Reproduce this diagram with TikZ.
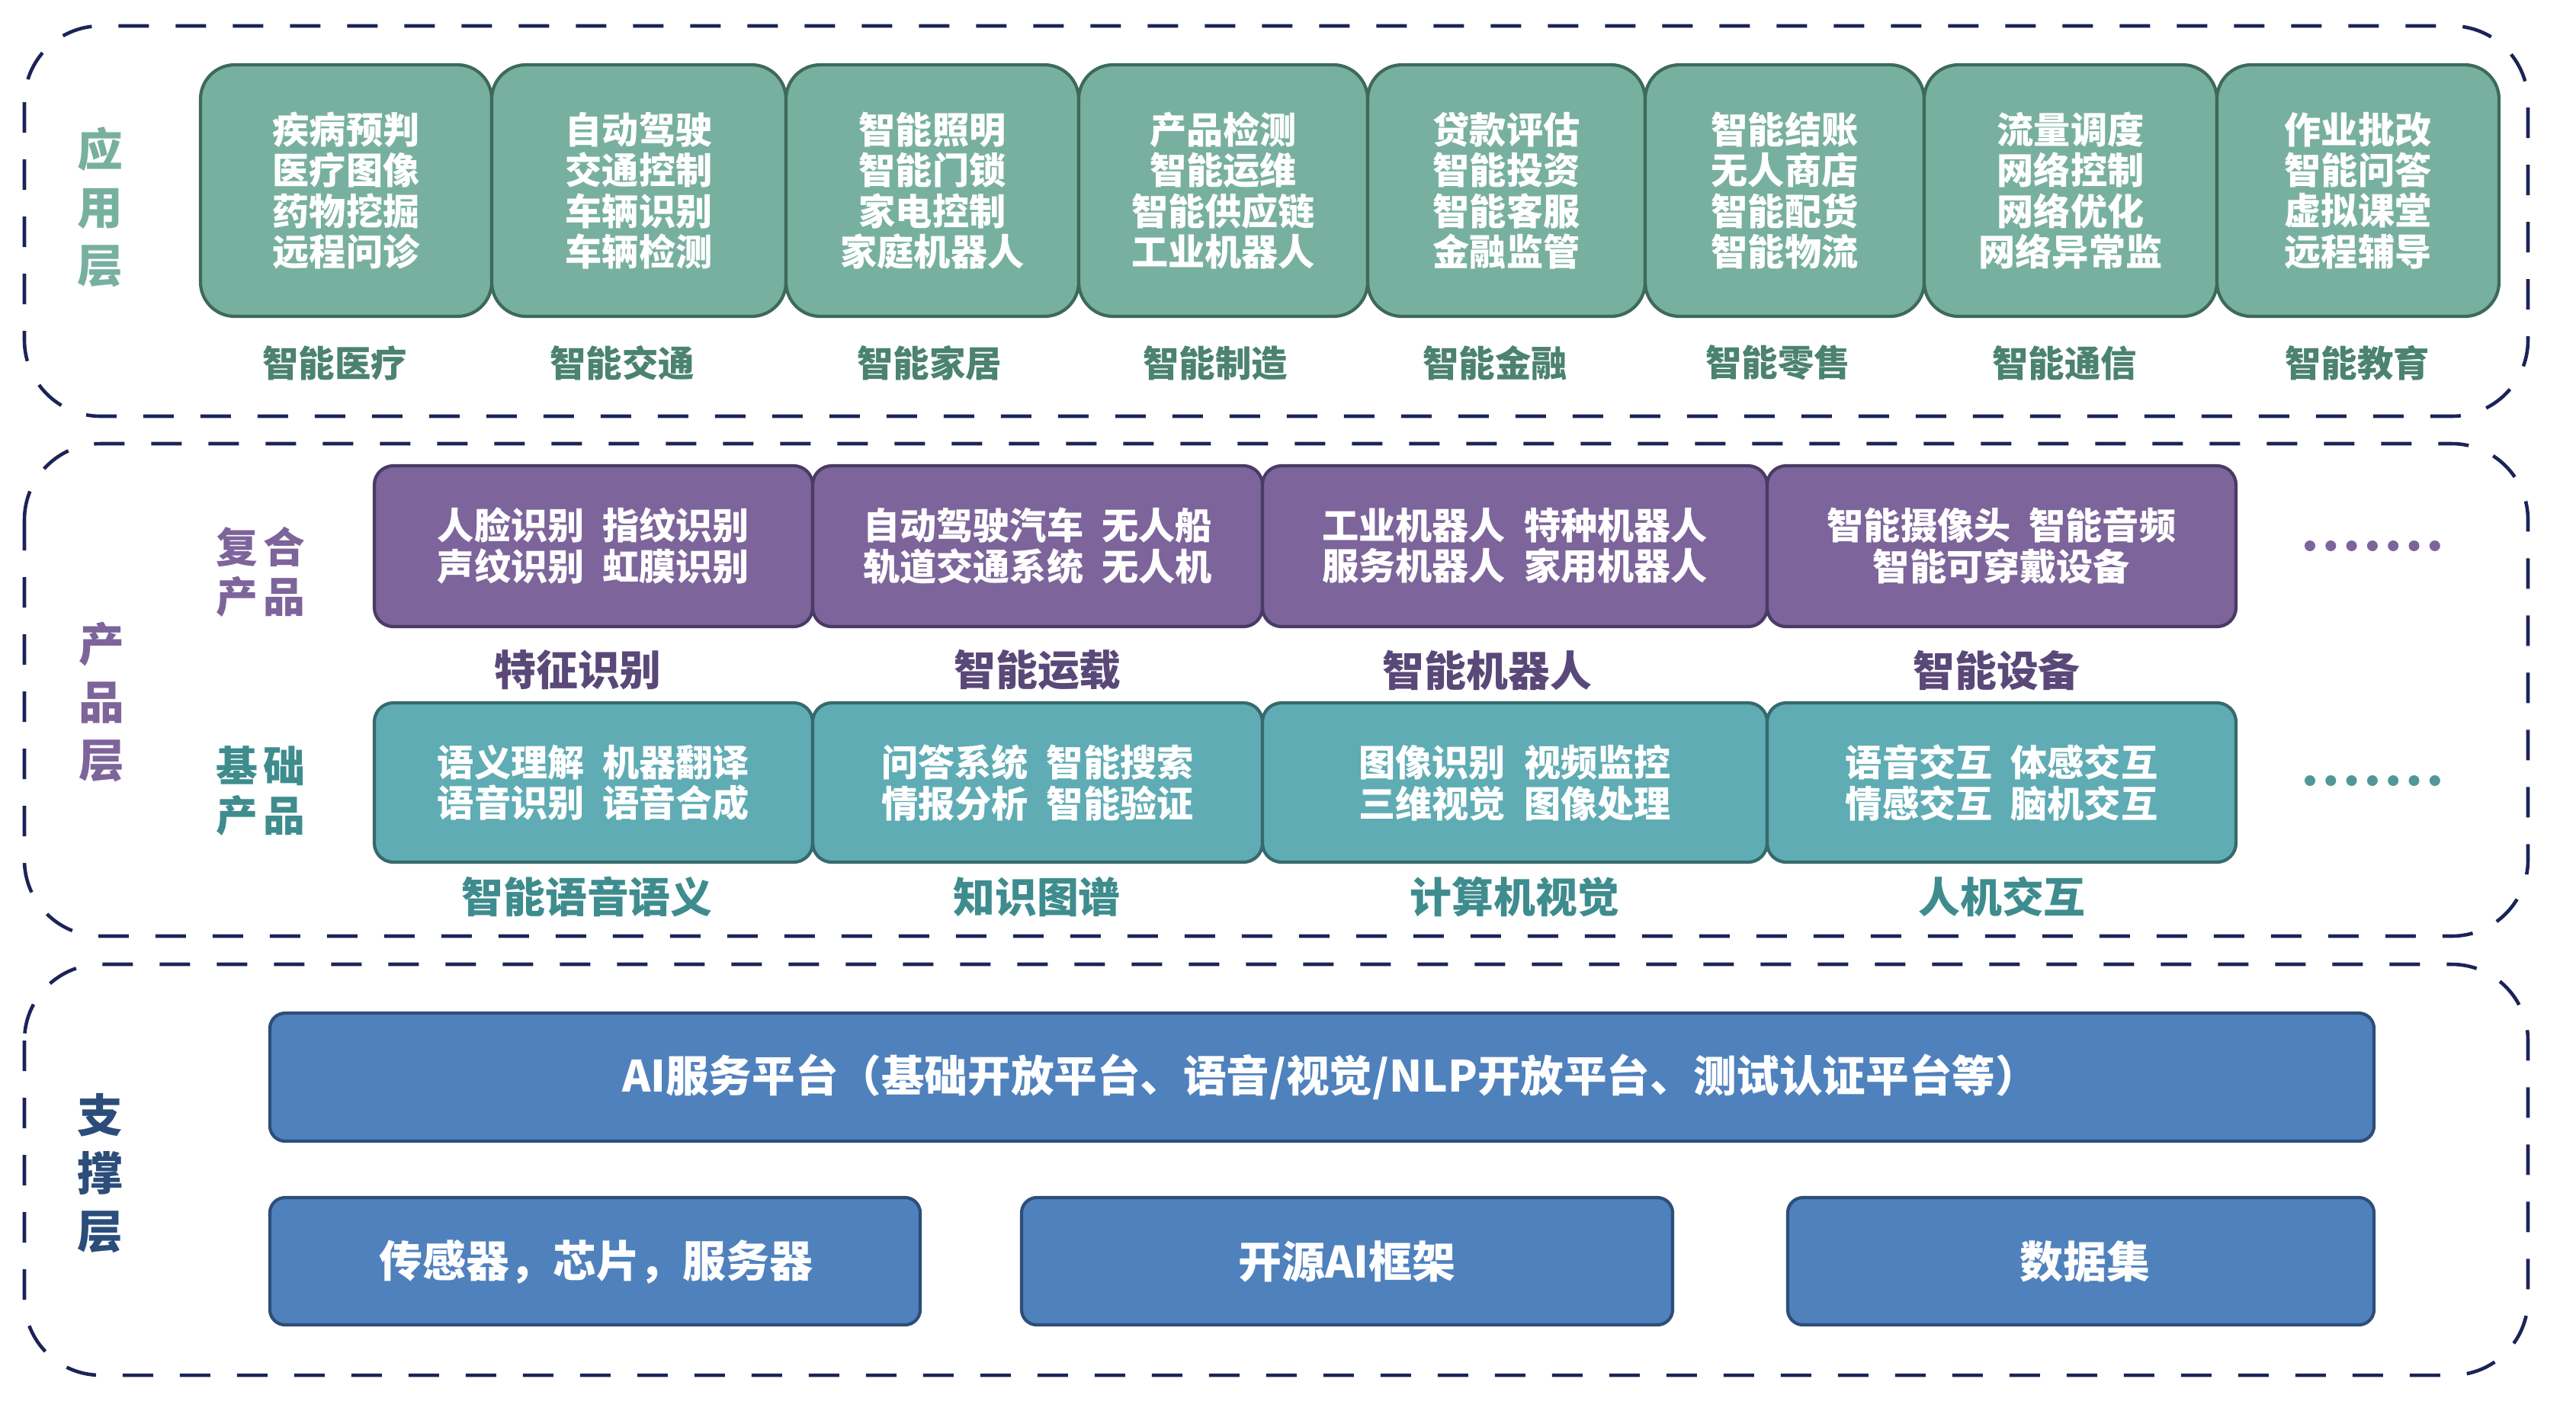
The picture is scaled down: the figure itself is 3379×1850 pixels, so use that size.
\documentclass[tikz,border=0pt]{standalone}
\usepackage{fontspec}
\setmainfont{Noto Sans CJK SC}
\usetikzlibrary{
  arrows.meta,
}
\definecolor{dashnavy}{RGB}{27, 36, 88}
\definecolor{appfill}{RGB}{120, 176, 160}
\definecolor{appline}{RGB}{61, 106, 90}
\definecolor{appword}{RGB}{75, 130, 112}
\definecolor{prodfill}{RGB}{125, 100, 155}
\definecolor{prodline}{RGB}{74, 59, 101}
\definecolor{prodword}{RGB}{90, 72, 120}
\definecolor{basefill}{RGB}{95, 172, 180}
\definecolor{baseline}{RGB}{55, 105, 108}
\definecolor{baseword}{RGB}{62, 140, 142}
\definecolor{supfill}{RGB}{79, 129, 189}
\definecolor{supline}{RGB}{45, 78, 120}
\definecolor{supword}{RGB}{44, 77, 122}
\tikzstyle{layer} = [
  draw=dashnavy,
  line width=1.3pt,
  dash pattern=on 4mm off 3.5mm,
  rounded corners=10mm,
]
\tikzstyle{appbox} = [
  fill=appfill,
  draw=appline,
  line width=1.2pt,
  rounded corners=4.5mm,
]
\tikzstyle{prodbox} = [
  fill=prodfill,
  draw=prodline,
  line width=1.2pt,
  rounded corners=2.5mm,
]
\tikzstyle{basebox} = [
  prodbox,
  fill=basefill,
  draw=baseline,
]
\tikzstyle{supbox} = [
  fill=supfill,
  draw=supline,
  line width=1.2pt,
  rounded corners=2mm,
]
\tikzstyle{boxtext} = [
  text=white,
  align=center,
  font=\fontsize{13.7pt}{15.2pt}\selectfont\bfseries,
]
\tikzstyle{applabel} = [
  text=appword,
  font=\fontsize{13.5pt}{15pt}\selectfont\bfseries,
]
\tikzstyle{prodlabel} = [
  font=\fontsize{15.6pt}{18pt}\selectfont\bfseries,
]
\tikzstyle{layername} = [
  align=center,
  font=\fontsize{17pt}{21.6pt}\selectfont\bfseries,
]
\tikzstyle{kindname} = [
  align=center,
  font=\fontsize{15.6pt}{18.5pt}\selectfont\bfseries,
]

\begin{document}
\begin{tikzpicture}[x=0.1mm, y=-0.1mm]

        \useasboundingbox (0,0) rectangle (3379,1850);

        \draw [layer] (32,34) rectangle (3316,546);
        \draw [layer] (32,582) rectangle (3316,1228);
        \draw [layer] (32,1265) rectangle (3316,1804);

        \node [layername, text=appfill] (appname) at (131,272) {应\\用\\层};
        \node [layername, text=prodfill] (prodname) at (133,921) {产\\品\\层};
        \node [layername, text=supword] (supname) at (131,1539) {支\\撑\\层};

        \foreach \xa/\xb/\lx/\txt/\lab [count=\i] in {
            263/645/439/{疾病预判\\医疗图像\\药物挖掘\\远程问诊}/智能医疗,
            645/1031/816/{自动驾驶\\交通控制\\车辆识别\\车辆检测}/智能交通,
            1031/1415/1219/{智能照明\\智能门锁\\家电控制\\家庭机器人}/智能家居,
            1415/1794/1594/{产品检测\\智能运维\\智能供应链\\工业机器人}/智能制造,
            1794/2158/1961/{贷款评估\\智能投资\\智能客服\\金融监管}/智能金融,
            2158/2524/2332/{智能结账\\无人商店\\智能配货\\智能物流}/智能零售,
            2524/2908/2708/{流量调度\\网络控制\\网络优化\\网络异常监}/智能通信,
            2908/3278/3092/{作业批改\\智能问答\\虚拟课堂\\远程辅导}/智能教育} {
          \draw [appbox] (\xa,85) rectangle (\xb,415);
          \node [boxtext] (app\i) at ({(\xa+\xb)/2},250) {\txt};
          \node [applabel] (applab\i) at (\lx,476) {\lab};
        }

        \node [kindname, text=prodfill] (compound) at (342,750)
              {复\hspace{2pt}合\\产\hspace{2pt}品};
        \node [kindname, text=baseword] (basic) at (342,1038)
              {基\hspace{2pt}础\\产\hspace{2pt}品};

        \foreach \xa/\xb/\lx/\txt/\lab [count=\i] in {
            491/1066/758/{人脸识别\enspace 指纹识别\\声纹识别\enspace 虹膜识别}/特征识别,
            1066/1656/1361/{自动驾驶汽车\enspace 无人船\\轨道交通系统\enspace 无人机}/智能运载,
            1656/2318/1951/{工业机器人\enspace 特种机器人\\服务机器人\enspace 家用机器人}/智能机器人,
            2318/2933/2619/{智能摄像头\enspace 智能音频\\智能可穿戴设备}/智能设备} {
          \draw [prodbox] (\xa,611) rectangle (\xb,822);
          \node [boxtext] (prod\i) at ({(\xa+\xb)/2},716) {\txt};
          \node [prodlabel, text=prodword] (prodlab\i) at (\lx,879) {\lab};
        }

        \foreach \xa/\xb/\lx/\txt/\lab [count=\i] in {
            491/1066/770/{语义理解\enspace 机器翻译\\语音识别\enspace 语音合成}/智能语音语义,
            1066/1656/1360/{问答系统\enspace 智能搜索\\情报分析\enspace 智能验证}/知识图谱,
            1656/2318/1987/{图像识别\enspace 视频监控\\三维视觉\enspace 图像处理}/计算机视觉,
            2318/2933/2626/{语音交互\enspace 体感交互\\情感交互\enspace 脑机交互}/人机交互} {
          \draw [basebox] (\xa,922) rectangle (\xb,1131);
          \node [boxtext] (base\i) at ({(\xa+\xb)/2},1027) {\txt};
          \node [prodlabel, text=baseword] (baselab\i) at (\lx,1176) {\lab};
        }

        \foreach \k in {0,...,6} {
          \fill [prodfill] (3030+\k*27.3,716) circle (0.7mm);
          \fill [baseword!90!white] (3030+\k*27.3,1024) circle (0.7mm);
        }

        \draw [supbox] (354,1329) rectangle (3114,1497);
        \node [boxtext, font=\fontsize{16.1pt}{18pt}\selectfont\bfseries] (aiplat) at (1745,1413)
              {AI服务平台（基础开放平台、语音/视觉/NLP开放平台、测试认证平台等）};

        \draw [supbox] (354,1571) rectangle (1207,1738);
        \draw [supbox] (1340,1571) rectangle (2194,1738);
        \draw [supbox] (2345,1571) rectangle (3114,1738);

        \node [boxtext, font=\fontsize{16.2pt}{18pt}\selectfont\bfseries] (sensor) at (782,1655) {传感器，芯片，服务器};
        \node [boxtext, font=\fontsize{16.2pt}{18pt}\selectfont\bfseries] (frame) at (1767,1655) {开源AI框架};
        \node [boxtext, font=\fontsize{16.2pt}{18pt}\selectfont\bfseries] (dataset) at (2735,1655) {数据集};
      \end{tikzpicture}
\end{document}
